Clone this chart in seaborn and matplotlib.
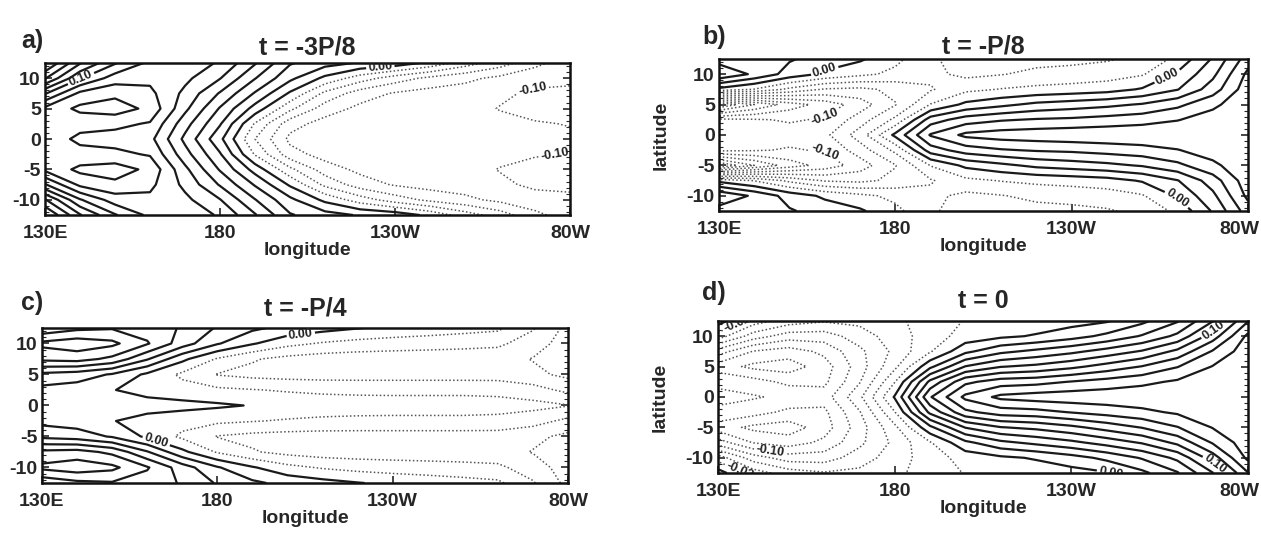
import numpy as np
import matplotlib
matplotlib.use("Agg")
import matplotlib.pyplot as plt
import matplotlib.transforms as mtransforms
import seaborn as sns

# grid of the fields (lat rows 0 -> 12.5, mirrored about the equator)
lon = [130, 140, 150, 160, 170, 180, 190, 200, 210, 220, 230, 240, 250, 260, 270, 280]
lat_half = [0, 2.5, 5, 7.5, 10, 12.5]

# a) t = -3P/8
a_lat00 = [0.150, 0.136, 0.132, 0.126, 0.075, 0.025, -0.040, -0.085, -0.090, -0.092, -0.093, -0.093, -0.092, -0.092, -0.094, -0.096]
a_lat25 = [0.148, 0.146, 0.145, 0.138, 0.088, 0.042, -0.022, -0.072, -0.088, -0.091, -0.092, -0.092, -0.092, -0.094, -0.098, -0.101]
a_lat50 = [0.145, 0.165, 0.170, 0.155, 0.105, 0.058, 0.012, -0.035, -0.070, -0.085, -0.089, -0.090, -0.092, -0.101, -0.108, -0.112]
a_lat75 = [0.098, 0.145, 0.155, 0.145, 0.115, 0.078, 0.038, -0.003, -0.045, -0.070, -0.082, -0.088, -0.090, -0.096, -0.104, -0.106]
a_lat100 = [0.038, 0.098, 0.130, 0.135, 0.125, 0.101, 0.061, 0.025, -0.005, -0.030, -0.050, -0.065, -0.075, -0.085, -0.092, -0.094]
a_lat125 = [-0.002, 0.058, 0.098, 0.125, 0.130, 0.118, 0.082, 0.042, 0.028, 0.018, 0.012, -0.005, -0.030, -0.050, -0.075, -0.090]

# b) t = -P/8
b_lat00 = [-0.085, -0.090, -0.092, -0.085, -0.050, 0.005, 0.062, 0.085, 0.090, 0.092, 0.094, 0.095, 0.096, 0.097, 0.098, 0.099]
b_lat25 = [-0.095, -0.098, -0.102, -0.098, -0.070, -0.035, 0.030, 0.050, 0.058, 0.062, 0.064, 0.068, 0.072, 0.079, 0.090, 0.098]
b_lat50 = [-0.200, -0.160, -0.130, -0.112, -0.090, -0.061, -0.019, 0.005, 0.015, 0.025, 0.030, 0.035, 0.042, 0.055, 0.075, 0.096]
b_lat75 = [-0.006, -0.021, -0.045, -0.062, -0.065, -0.055, -0.042, -0.025, -0.019, -0.015, -0.012, -0.008, 0.002, 0.019, 0.050, 0.092]
b_lat100 = [0.058, 0.036, 0.012, -0.004, -0.015, -0.025, -0.035, -0.045, -0.041, -0.035, -0.033, -0.030, -0.022, 0.003, 0.035, 0.085]
b_lat125 = [0.030, 0.030, 0.022, 0.012, 0.003, -0.015, -0.035, -0.055, -0.050, -0.047, -0.045, -0.042, -0.035, -0.015, 0.022, 0.070]

# c) t = -P/4
c_lat00 = [0.012, 0.012, 0.011, 0.009, 0.006, 0.003, -0.001, -0.006, -0.009, -0.010, -0.011, -0.011, -0.011, -0.012, -0.014, -0.019]
c_lat25 = [0.014, 0.010, 0.001, -0.008, -0.012, -0.016, -0.019, -0.022, -0.024, -0.025, -0.025, -0.025, -0.025, -0.026, -0.032, -0.045]
c_lat50 = [0.035, 0.030, 0.018, -0.004, -0.024, -0.041, -0.046, -0.048, -0.049, -0.049, -0.049, -0.049, -0.049, -0.049, -0.055, -0.065]
c_lat75 = [0.085, 0.088, 0.075, 0.042, 0.005, -0.022, -0.038, -0.046, -0.050, -0.051, -0.051, -0.051, -0.051, -0.052, -0.061, -0.070]
c_lat100 = [0.105, 0.112, 0.105, 0.082, 0.050, 0.022, 0.002, -0.014, -0.022, -0.027, -0.030, -0.032, -0.034, -0.036, -0.050, -0.070]
c_lat125 = [0.065, 0.075, 0.078, 0.071, 0.058, 0.038, 0.024, 0.014, 0.007, 0.001, -0.004, -0.008, -0.012, -0.016, -0.038, -0.066]

# d) t = 0
d_lat00 = [-0.095, -0.098, -0.105, -0.110, -0.065, 0.002, 0.098, 0.145, 0.165, 0.170, 0.172, 0.173, 0.174, 0.175, 0.176, 0.177]
d_lat25 = [-0.104, -0.112, -0.125, -0.125, -0.082, -0.021, 0.065, 0.115, 0.130, 0.133, 0.141, 0.148, 0.155, 0.163, 0.171, 0.176]
d_lat50 = [-0.130, -0.145, -0.150, -0.130, -0.090, -0.045, 0.015, 0.061, 0.079, 0.085, 0.095, 0.108, 0.121, 0.139, 0.161, 0.175]
d_lat75 = [-0.090, -0.121, -0.130, -0.115, -0.085, -0.055, -0.022, 0.015, 0.035, 0.045, 0.055, 0.068, 0.082, 0.105, 0.142, 0.172]
d_lat100 = [-0.030, -0.070, -0.090, -0.090, -0.070, -0.050, -0.030, -0.012, -0.004, 0.002, 0.012, 0.025, 0.042, 0.065, 0.110, 0.165]
d_lat125 = [0.010, -0.030, -0.050, -0.058, -0.055, -0.045, -0.030, -0.019, -0.015, -0.012, -0.008, -0.002, 0.015, 0.038, 0.079, 0.139]

titles = ["t = -3P/8", "t = -P/8", "t = -P/4", "t = 0"]
tags = ["a)", "b)", "c)", "d)"]
xtick_vals = [130, 180, 230, 280]
xtick_labels = ["130E", "180", "130W", "80W"]
ytick_vals = [-10, -5, 0, 5, 10]

# contour labels: (level, lon, lat)
a_marks = [(0.10, 140, 10.5), (0.00, 226, 10.5), (-0.10, 270, 7), (-0.10, 276, -4)]
b_marks = [(0.00, 160, 10.5), (-0.10, 160, 3), (-0.10, 160, -3), (0.00, 258, 8.5), (0.00, 262, -9)]
c_marks = [(0.00, 204, 10.5), (0.00, 163, -5)]
d_marks = [(-0.02, 137, 10), (-0.10, 145, -8), (-0.02, 137, -11), (0.00, 249, -10.5), (0.10, 275, -8), (0.10, 273, 9)]

sns.set_theme(style="ticks")
plt.rcParams["font.family"] = ["Liberation Sans", "DejaVu Sans"]
plt.rcParams["font.weight"] = "bold"
plt.rcParams["axes.labelweight"] = "bold"
plt.rcParams["axes.unicode_minus"] = False


def full_field(rows):
    half = np.array(rows)
    return np.vstack([half[:0:-1], half])


lat = np.concatenate([-np.array(lat_half[:0:-1]), np.array(lat_half)])
levels = np.round(np.arange(-15, 16) * 0.02, 2)

panels = [
    [a_lat00, a_lat25, a_lat50, a_lat75, a_lat100, a_lat125],
    [b_lat00, b_lat25, b_lat50, b_lat75, b_lat100, b_lat125],
    [c_lat00, c_lat25, c_lat50, c_lat75, c_lat100, c_lat125],
    [d_lat00, d_lat25, d_lat50, d_lat75, d_lat100, d_lat125],
]
marks = [a_marks, b_marks, c_marks, d_marks]

fig = plt.figure(figsize=(12.61, 5.46), dpi=100)
rects = [
    [0.0357, 0.6062, 0.4163, 0.2784],
    [0.5702, 0.6136, 0.4195, 0.2784],
    [0.0333, 0.1154, 0.4171, 0.2839],
    [0.5694, 0.1337, 0.4203, 0.2784],
]
title_pads = [6, 4, 9, 9]
tag_pos = [(0.017, 0.925), (0.557, 0.932), (0.017, 0.445), (0.557, 0.463)]

for i in range(4):
    ax = fig.add_axes(rects[i])
    z = full_field(panels[i])
    drawn = {}
    for lv in levels:
        if lv <= z.min() or lv >= z.max():
            continue
        if lv < -0.001:
            cs = ax.contour(lon, lat, z, levels=[lv], colors="#555555",
                            linewidths=1.1, linestyles=[(0, (1, 1.5))])
        else:
            cs = ax.contour(lon, lat, z, levels=[lv], colors="#1a1a1a",
                            linewidths=1.6, linestyles="solid")
        drawn[round(float(lv), 2)] = cs
    for lv, mx, my in marks[i]:
        cs = drawn.get(round(lv, 2))
        if cs is None:
            continue
        ax.clabel(cs, manual=[(mx, my)], fmt="%.2f", fontsize=9,
                  inline=True, inline_spacing=2, colors="#222222")
    ax.set_xlim(130, 280)
    ax.set_ylim(-12.5, 12.5)
    ax.set_xticks(xtick_vals)
    ax.set_xticklabels(xtick_labels)
    ax.set_yticks(ytick_vals)
    ax.set_yticks(np.arange(-12, 13, 1), minor=True)
    ax.tick_params(axis="both", which="major", direction="in", length=5,
                   width=1.2, labelsize=14, right=True)
    ax.tick_params(axis="x", which="major", pad=7)
    ax.tick_params(axis="y", which="major", pad=3)
    ax.tick_params(axis="y", which="minor", direction="in", length=3,
                   width=0.8, left=True, right=True)
    for sp in ax.spines.values():
        sp.set_linewidth(1.8)
        sp.set_color("#111111")
    if i in (1, 3):
        last = ax.get_xticklabels()[-1]
        shift = mtransforms.ScaledTranslation(-9 / 100, 0, fig.dpi_scale_trans)
        last.set_transform(last.get_transform() + shift)
    ax.set_xlabel("longitude", fontsize=14, fontweight="bold", labelpad=0)
    if i in (1, 3):
        ax.set_ylabel("latitude", fontsize=14, fontweight="bold", labelpad=12)
    ax.set_title(titles[i], fontsize=18, fontweight="bold", pad=title_pads[i])
    fig.text(tag_pos[i][0], tag_pos[i][1], tags[i], fontsize=18,
             fontweight="bold", ha="left", va="center")

fig.savefig("out.png", dpi=100, facecolor="white")
